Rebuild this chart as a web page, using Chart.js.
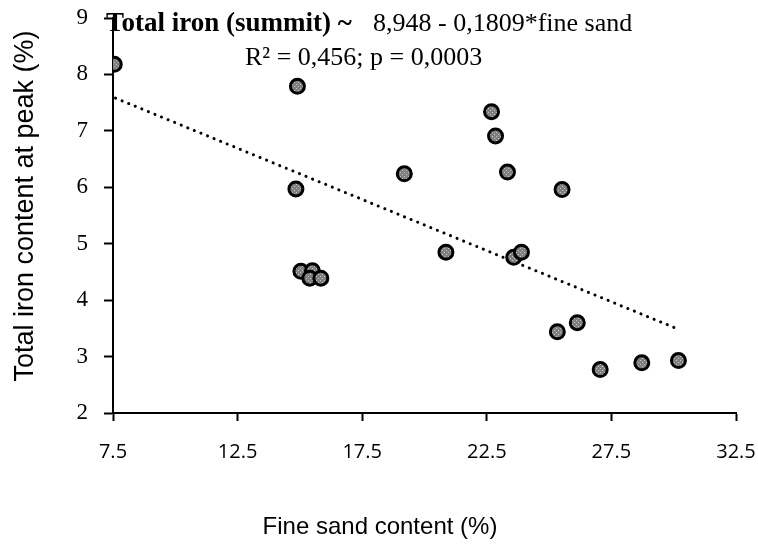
<!DOCTYPE html>
<html>
<head>
<meta charset="utf-8">
<script src="https://cdn.jsdelivr.net/npm/chart.js@4/dist/chart.umd.min.js"></script>
<style>
  html, body { margin: 0; padding: 0; background: #fff; }
  #wrap { width: 758px; height: 546px; position: relative; }
</style>
</head>
<body>
<div id="wrap"><canvas id="scatter-iron"></canvas></div>
<script>
// fine sand content (%) vs total iron content at peak (%)
var fineSand = [7.55, 14.9, 14.84, 15.04, 15.5, 15.4, 15.84, 19.19, 20.86, 22.69,
                22.85, 23.33, 23.58, 23.89, 25.52, 25.33, 26.13, 27.05, 28.72, 30.19];
var totalIron = [8.18, 7.79, 5.97, 4.51, 4.52, 4.39, 4.39, 6.24, 4.85, 7.34,
                 6.91, 6.27, 4.76, 4.85, 5.96, 3.44, 3.60, 2.77, 2.89, 2.93];
// trend line ends
var trendX = [7.6, 30.1];
var trendY = [7.58, 3.50];
var xTicks = [7.5, 12.5, 17.5, 22.5, 27.5, 32.5];
var yTicks = [2, 3, 4, 5, 6, 7, 8, 9];

var eqBold = "Total iron (summit) ~";
var eqRest = "8,948 - 0,1809*fine sand";
var eqStats = "R\u00b2 = 0,456; p = 0,0003";
var xTitle = "Fine sand content (%)";
var yTitle = "Total iron content at peak (%)";

// grey dotted fill for the markers
function markerFill() {
  var c = document.createElement('canvas');
  c.width = 4; c.height = 4;
  var g = c.getContext('2d');
  g.fillStyle = '#808080';
  g.fillRect(0, 0, 4, 4);
  g.fillStyle = '#c4c4c4';
  g.fillRect(0, 0, 1, 1);
  g.fillRect(2, 2, 1, 1);
  return g.createPattern(c, 'repeat');
}

var textPlugin = {
  id: 'texts',
  afterDraw: function(chart) {
    var ctx = chart.ctx;
    ctx.save();
    ctx.fillStyle = '#000';
    ctx.textBaseline = 'alphabetic';
    ctx.textAlign = 'left';
    ctx.font = 'bold 27px "Liberation Serif", "Times New Roman", serif';
    ctx.fillText(eqBold, 106, 31);
    ctx.font = '26px "Liberation Serif", "Times New Roman", serif';
    ctx.fillText(eqRest, 373, 31);
    ctx.fillText(eqStats, 245, 65);

    ctx.font = '24px "Liberation Sans", Arial, sans-serif';
    ctx.textAlign = 'center';
    ctx.textBaseline = 'middle';
    ctx.fillText(xTitle, 380, 527);
    ctx.translate(26, 206);
    ctx.rotate(-Math.PI / 2);
    ctx.font = '27px "Liberation Sans", Arial, sans-serif';
    ctx.fillText(yTitle, 0, 0);
    ctx.restore();
  }
};

new Chart(document.getElementById("scatter-iron"), {
  type: 'scatter',
  data: {
    datasets: [{
      label: "Total iron",
      data: fineSand.map(function(v, i) { return {x: v, y: totalIron[i]}; }),
      pointStyle: 'circle',
      pointRadius: 7,
      pointBorderWidth: 3,
      pointBorderColor: '#000',
      pointBackgroundColor: markerFill(),
      order: 0
    }, {
      label: "Trend",
      type: 'line',
      data: trendX.map(function(v, i) { return {x: v, y: trendY[i]}; }),
      borderColor: '#000',
      borderWidth: 3,
      borderDash: [0.1, 7],
      borderCapStyle: 'round',
      pointRadius: 0,
      fill: false,
      order: 1
    }]
  },
  options: {
    responsive: true,
    maintainAspectRatio: false,
    animation: false,
    events: [],
    layout: { padding: { top: 18, right: 22, left: 0, bottom: 0 } },
    plugins: {
      legend: { display: false },
      tooltip: { enabled: false }
    },
    scales: {
      x: {
        type: 'linear',
        min: 7.5,
        max: 32.5,
        afterBuildTicks: function(scale) { scale.ticks = xTicks.map(function(v) { return {value: v}; }); },
        afterFit: function(scale) {
          scale.height = 133;
          scale.paddingLeft = 0;
          scale.paddingRight = 0;
        },
        border: { color: '#000', width: 2 },
        grid: { drawOnChartArea: false, drawTicks: true, tickLength: 8, tickColor: '#000', tickWidth: 2 },
        ticks: {
          color: '#000',
          padding: 19,
          maxRotation: 0,
          font: { family: '"Open Sans", "Noto Sans", sans-serif', size: 20 },
          callback: function(v) { return v.toFixed(1); }
        }
      },
      y: {
        min: 2,
        max: 9,
        afterBuildTicks: function(scale) { scale.ticks = yTicks.map(function(v) { return {value: v}; }); },
        afterFit: function(scale) {
          scale.width = 113;
          scale.paddingTop = 0;
          scale.paddingBottom = 0;
        },
        border: { color: '#000', width: 2 },
        grid: { drawOnChartArea: false, drawTicks: true, tickLength: 9, tickColor: '#000', tickWidth: 2 },
        ticks: {
          color: '#000',
          padding: 16,
          font: { family: '"Liberation Serif", "Times New Roman", serif', size: 23 }
        }
      }
    }
  },
  plugins: [textPlugin]
});
</script>
</body>
</html>
